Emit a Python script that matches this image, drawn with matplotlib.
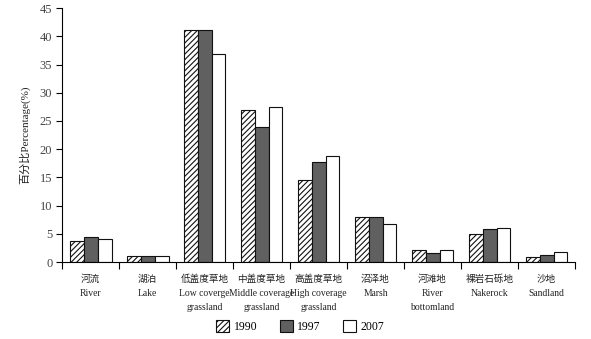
import matplotlib
matplotlib.use("Agg")
import matplotlib.pyplot as plt
import numpy as np
from matplotlib.patches import Patch

categories = ["河流\nRiver", "湖泊\nLake", "低盖度草地\nLow coverge\ngrassland",
              "中盖度草地\nMiddle coverage\ngrassland", "高盖度草地\nHigh coverage\ngrassland",
              "沼泽地\nMarsh", "河滩地\nRiver\nbottomland", "裸岩石砾地\nNakerock", "沙地\nSandland"]
years = ["1990", "1997", "2007"]
v1990 = [3.8, 1.05, 41.1, 26.9, 14.6, 7.9, 2.2, 5.0, 0.95]
v1997 = [4.5, 1.05, 41.1, 23.9, 17.7, 7.9, 1.6, 5.8, 1.25]
v2007 = [4.0, 1.0, 36.9, 27.5, 18.8, 6.8, 2.2, 6.0, 1.8]
yticks = [0, 5, 10, 15, 20, 25, 30, 35, 40, 45]

fam = ["Liberation Serif", "Noto Sans CJK SC"]
plt.rcParams["font.family"] = fam
plt.rcParams["hatch.linewidth"] = 0.8

fig = plt.figure(figsize=(5.91, 3.39), dpi=100)
ax = fig.add_axes([0.105, 0.227, 0.868, 0.749])

x = np.arange(len(categories))
w = 0.245
styles = [dict(facecolor="white", hatch="//////"),
          dict(facecolor="#606060"),
          dict(facecolor="white")]
for i, (vals, st) in enumerate(zip([v1990, v1997, v2007], styles)):
    ax.bar(x + (i - 1) * w, vals, w, edgecolor="#111111", linewidth=0.8, **st)

ax.set_xlim(-0.5, len(categories) - 0.5)
ax.set_ylim(0, 45)
ax.set_yticks(yticks)
ax.set_xticks(x)
ax.set_xticklabels(categories, fontsize=6.9, color="#222222", linespacing=1.72)
ax.set_xticks(np.arange(len(categories) + 1) - 0.5, minor=True)
ax.tick_params(axis="x", which="major", length=0, pad=9)
ax.tick_params(axis="x", which="minor", length=5, width=0.8, direction="out")
ax.tick_params(axis="y", length=4, width=0.8, labelsize=9, labelcolor="#444444", pad=3)
for s in ["top", "right"]:
    ax.spines[s].set_visible(False)
for s in ["left", "bottom"]:
    ax.spines[s].set_linewidth(0.8)
ax.set_ylabel("百分比Percentage(%)", fontsize=8, color="#222222", labelpad=7)

handles = [Patch(edgecolor="#111111", linewidth=0.8, label=y, **st) for y, st in zip(years, styles)]
fig.legend(handles=handles, loc="center", bbox_to_anchor=(0.508, 0.036), ncol=3,
           frameon=False, fontsize=8.5, handlelength=1.1, handleheight=1.1,
           columnspacing=1.9, handletextpad=0.4)

fig.savefig("out.png", dpi=100)
